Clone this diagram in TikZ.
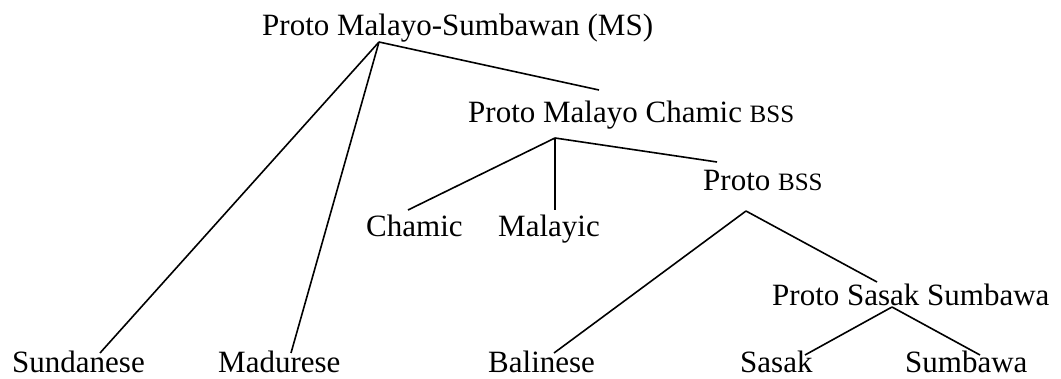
\documentclass[tikz,border=0pt]{standalone}
\usepackage{fontspec}
\setmainfont{Liberation Serif}
\newcommand{\scbss}{{\fontsize{25}{28}\selectfont BSS}}
\begin{document}
\begin{tikzpicture}[x=1pt,y=-1pt,
  lbl/.style={anchor=base west,inner sep=0pt,font=\fontsize{31}{36}\selectfont},
  branch/.style={line width=1.6pt,black}]
\useasboundingbox (0,0) rectangle (1061,378);
% labels
\node[lbl] (pms) at (262,35) {Proto Malayo-Sumbawan (MS)};
\node[lbl] (pmc) at (468,122) {Proto Malayo Chamic \scbss};
\node[lbl] (cham) at (366,236) {Chamic};
\node[lbl] (malay) at (498,236) {Malayic};
\node[lbl] (pbss) at (703,190) {Proto \scbss};
\node[lbl] (pss) at (772,305) {Proto Sasak Sumbawa};
\node[lbl] (sund) at (12,372) {Sundanese};
\node[lbl] (mad) at (218,372) {Madurese};
\node[lbl] (bal) at (488,372) {Balinese};
\node[lbl] (sas) at (740,372) {Sasak};
\node[lbl] (sumb) at (905,372) {Sumbawa};
% joints
\coordinate (pmsA) at (379,42);
\coordinate (pmcT) at (599,90);
\coordinate (pmcA) at (555,138);
\coordinate (pbssT) at (717,162);
\coordinate (pbssA) at (746,211);
\coordinate (pssT) at (877,282);
\coordinate (pssA) at (892,307);
\coordinate (sundT) at (100,353);
\coordinate (madT) at (291,353);
\coordinate (chamT) at (408,210);
\coordinate (malayT) at (555,210);
\coordinate (balT) at (554,353);
\coordinate (sasT) at (805,355);
\coordinate (sumbT) at (980,355);
% branches
\draw[branch] (pmsA) -- (sundT);
\draw[branch] (pmsA) -- (madT);
\draw[branch] (pmsA) -- (pmcT);
\draw[branch] (pmcA) -- (chamT);
\draw[branch] (pmcA) -- (malayT);
\draw[branch] (pmcA) -- (pbssT);
\draw[branch] (pbssA) -- (balT);
\draw[branch] (pbssA) -- (pssT);
\draw[branch] (pssA) -- (sasT);
\draw[branch] (pssA) -- (sumbT);
\end{tikzpicture}
\end{document}
